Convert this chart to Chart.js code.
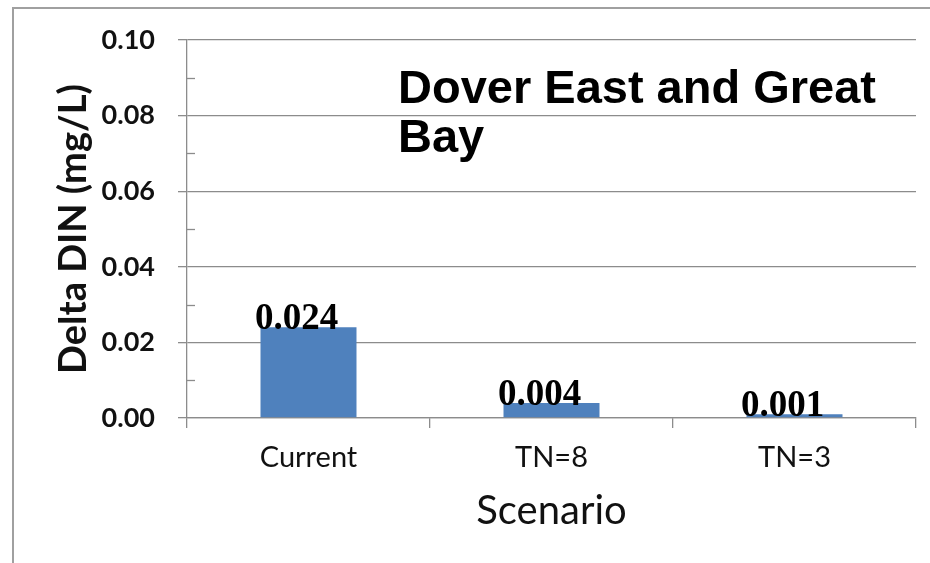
<!DOCTYPE html>
<html>
<head>
<meta charset="utf-8">
<script src="https://cdn.jsdelivr.net/npm/chart.js@4/dist/chart.umd.min.js"></script>
<style>
  html, body { margin: 0; padding: 0; background: #fff; }
  #wrap { position: relative; width: 930px; height: 563px; }
  #frame { position: absolute; left: 12px; top: 7px; right: 0; bottom: 0;
           border-left: 2px solid #a0a0a0; border-top: 2px solid #a0a0a0; pointer-events: none; }
  canvas { position: absolute; left: 0; top: 0; }
</style>
</head>
<body>
<div id="wrap">
  <canvas id="chart" width="930" height="563"></canvas>
  <div id="frame"></div>
</div>
<script>
// Scenarios and the change in dissolved inorganic nitrogen for each
const scenarios = ['Current', 'TN=8', 'TN=3'];
const deltaDIN = [0.024, 0.004, 0.001];
const titleLines = ['Dover East and Great', 'Bay'];
const yAxisTitle = 'Delta DIN (mg/L)';
const xAxisTitle = 'Scenario';

const GRID = '#8c8c8c';
const TEXT = '#111';
const SANS = 'Lato, "Open Sans", sans-serif';
const isMajor = v => Math.round(v * 100) % 2 === 0;

// Title text in the upper plot area
const titlePlugin = {
  id: 'plotTitle',
  afterDraw(chart) {
    const ctx = chart.ctx;
    ctx.save();
    ctx.font = 'bold 47px "Liberation Sans", Arial, sans-serif';
    ctx.fillStyle = '#000';
    ctx.textAlign = 'left';
    ctx.textBaseline = 'alphabetic';
    titleLines.forEach((t, i) => ctx.fillText(t, 398, 103 + i * 49));
    ctx.restore();
  }
};

// Value labels sitting on top of each bar
const valueLabels = {
  id: 'valueLabels',
  afterDatasetsDraw(chart) {
    const ctx = chart.ctx;
    const meta = chart.getDatasetMeta(0);
    ctx.save();
    ctx.font = 'bold 37px "Liberation Serif", "Times New Roman", serif';
    ctx.fillStyle = '#000';
    ctx.textAlign = 'center';
    ctx.textBaseline = 'alphabetic';
    meta.data.forEach((bar, i) => {
      ctx.fillText(deltaDIN[i].toFixed(3), bar.x - 12, bar.y + 2);
    });
    ctx.restore();
  }
};

// Short minor tick marks on the inner side of the value axis
const minorTicks = {
  id: 'minorTicks',
  afterDraw(chart) {
    const y = chart.scales.y;
    const ctx = chart.ctx;
    ctx.save();
    ctx.strokeStyle = GRID;
    ctx.lineWidth = 1.3;
    y.ticks.forEach((t, i) => {
      if (isMajor(t.value)) return;
      const py = Math.round(y.getPixelForTick(i)) + 0.5;
      ctx.beginPath();
      ctx.moveTo(chart.chartArea.left, py);
      ctx.lineTo(chart.chartArea.left + 8, py);
      ctx.stroke();
    });
    ctx.restore();
  }
};

new Chart(document.getElementById('chart'), {
  type: 'bar',
  data: {
    labels: scenarios,
    datasets: [{
      data: deltaDIN,
      backgroundColor: '#4F81BD',
      borderWidth: 0,
      categoryPercentage: 1,
      barPercentage: 0.395
    }]
  },
  options: {
    responsive: false,
    animation: false,
    devicePixelRatio: 1,
    layout: { padding: { top: 40, right: 14, left: 0, bottom: 0 } },
    plugins: { legend: { display: false }, tooltip: { enabled: false } },
    scales: {
      x: {
        afterFit(scale) { scale.height = 145; },
        grid: {
          offset: true,
          drawOnChartArea: false,
          drawTicks: true,
          tickLength: 10,
          color: GRID,
          lineWidth: 1.3
        },
        border: { display: true, color: GRID, width: 1.3 },
        ticks: {
          color: TEXT,
          padding: 12,
          font: { family: SANS, size: 29 }
        },
        title: {
          display: true,
          text: xAxisTitle,
          color: TEXT,
          font: { family: SANS, size: 40 },
          padding: { top: 0, bottom: 28 }
        }
      },
      y: {
        min: 0,
        max: 0.1,
        afterFit(scale) { scale.width = 187; },
        ticks: {
          stepSize: 0.01,
          autoSkip: false,
          padding: 23,
          color: TEXT,
          font: { family: SANS, size: 27, weight: 'bold' },
          callback: v => isMajor(v) ? v.toFixed(2) : ''
        },
        grid: {
          color: c => isMajor(c.tick.value) ? GRID : 'rgba(0,0,0,0)',
          tickColor: c => isMajor(c.tick.value) ? GRID : 'rgba(0,0,0,0)',
          lineWidth: 1.3,
          tickLength: 9
        },
        border: { display: true, color: GRID, width: 1.3 },
        title: {
          display: true,
          text: yAxisTitle,
          color: TEXT,
          font: { family: SANS, size: 38, weight: 'bold' },
          padding: { top: 51, bottom: 0 }
        }
      }
    }
  },
  plugins: [titlePlugin, valueLabels, minorTicks]
});
</script>
</body>
</html>
